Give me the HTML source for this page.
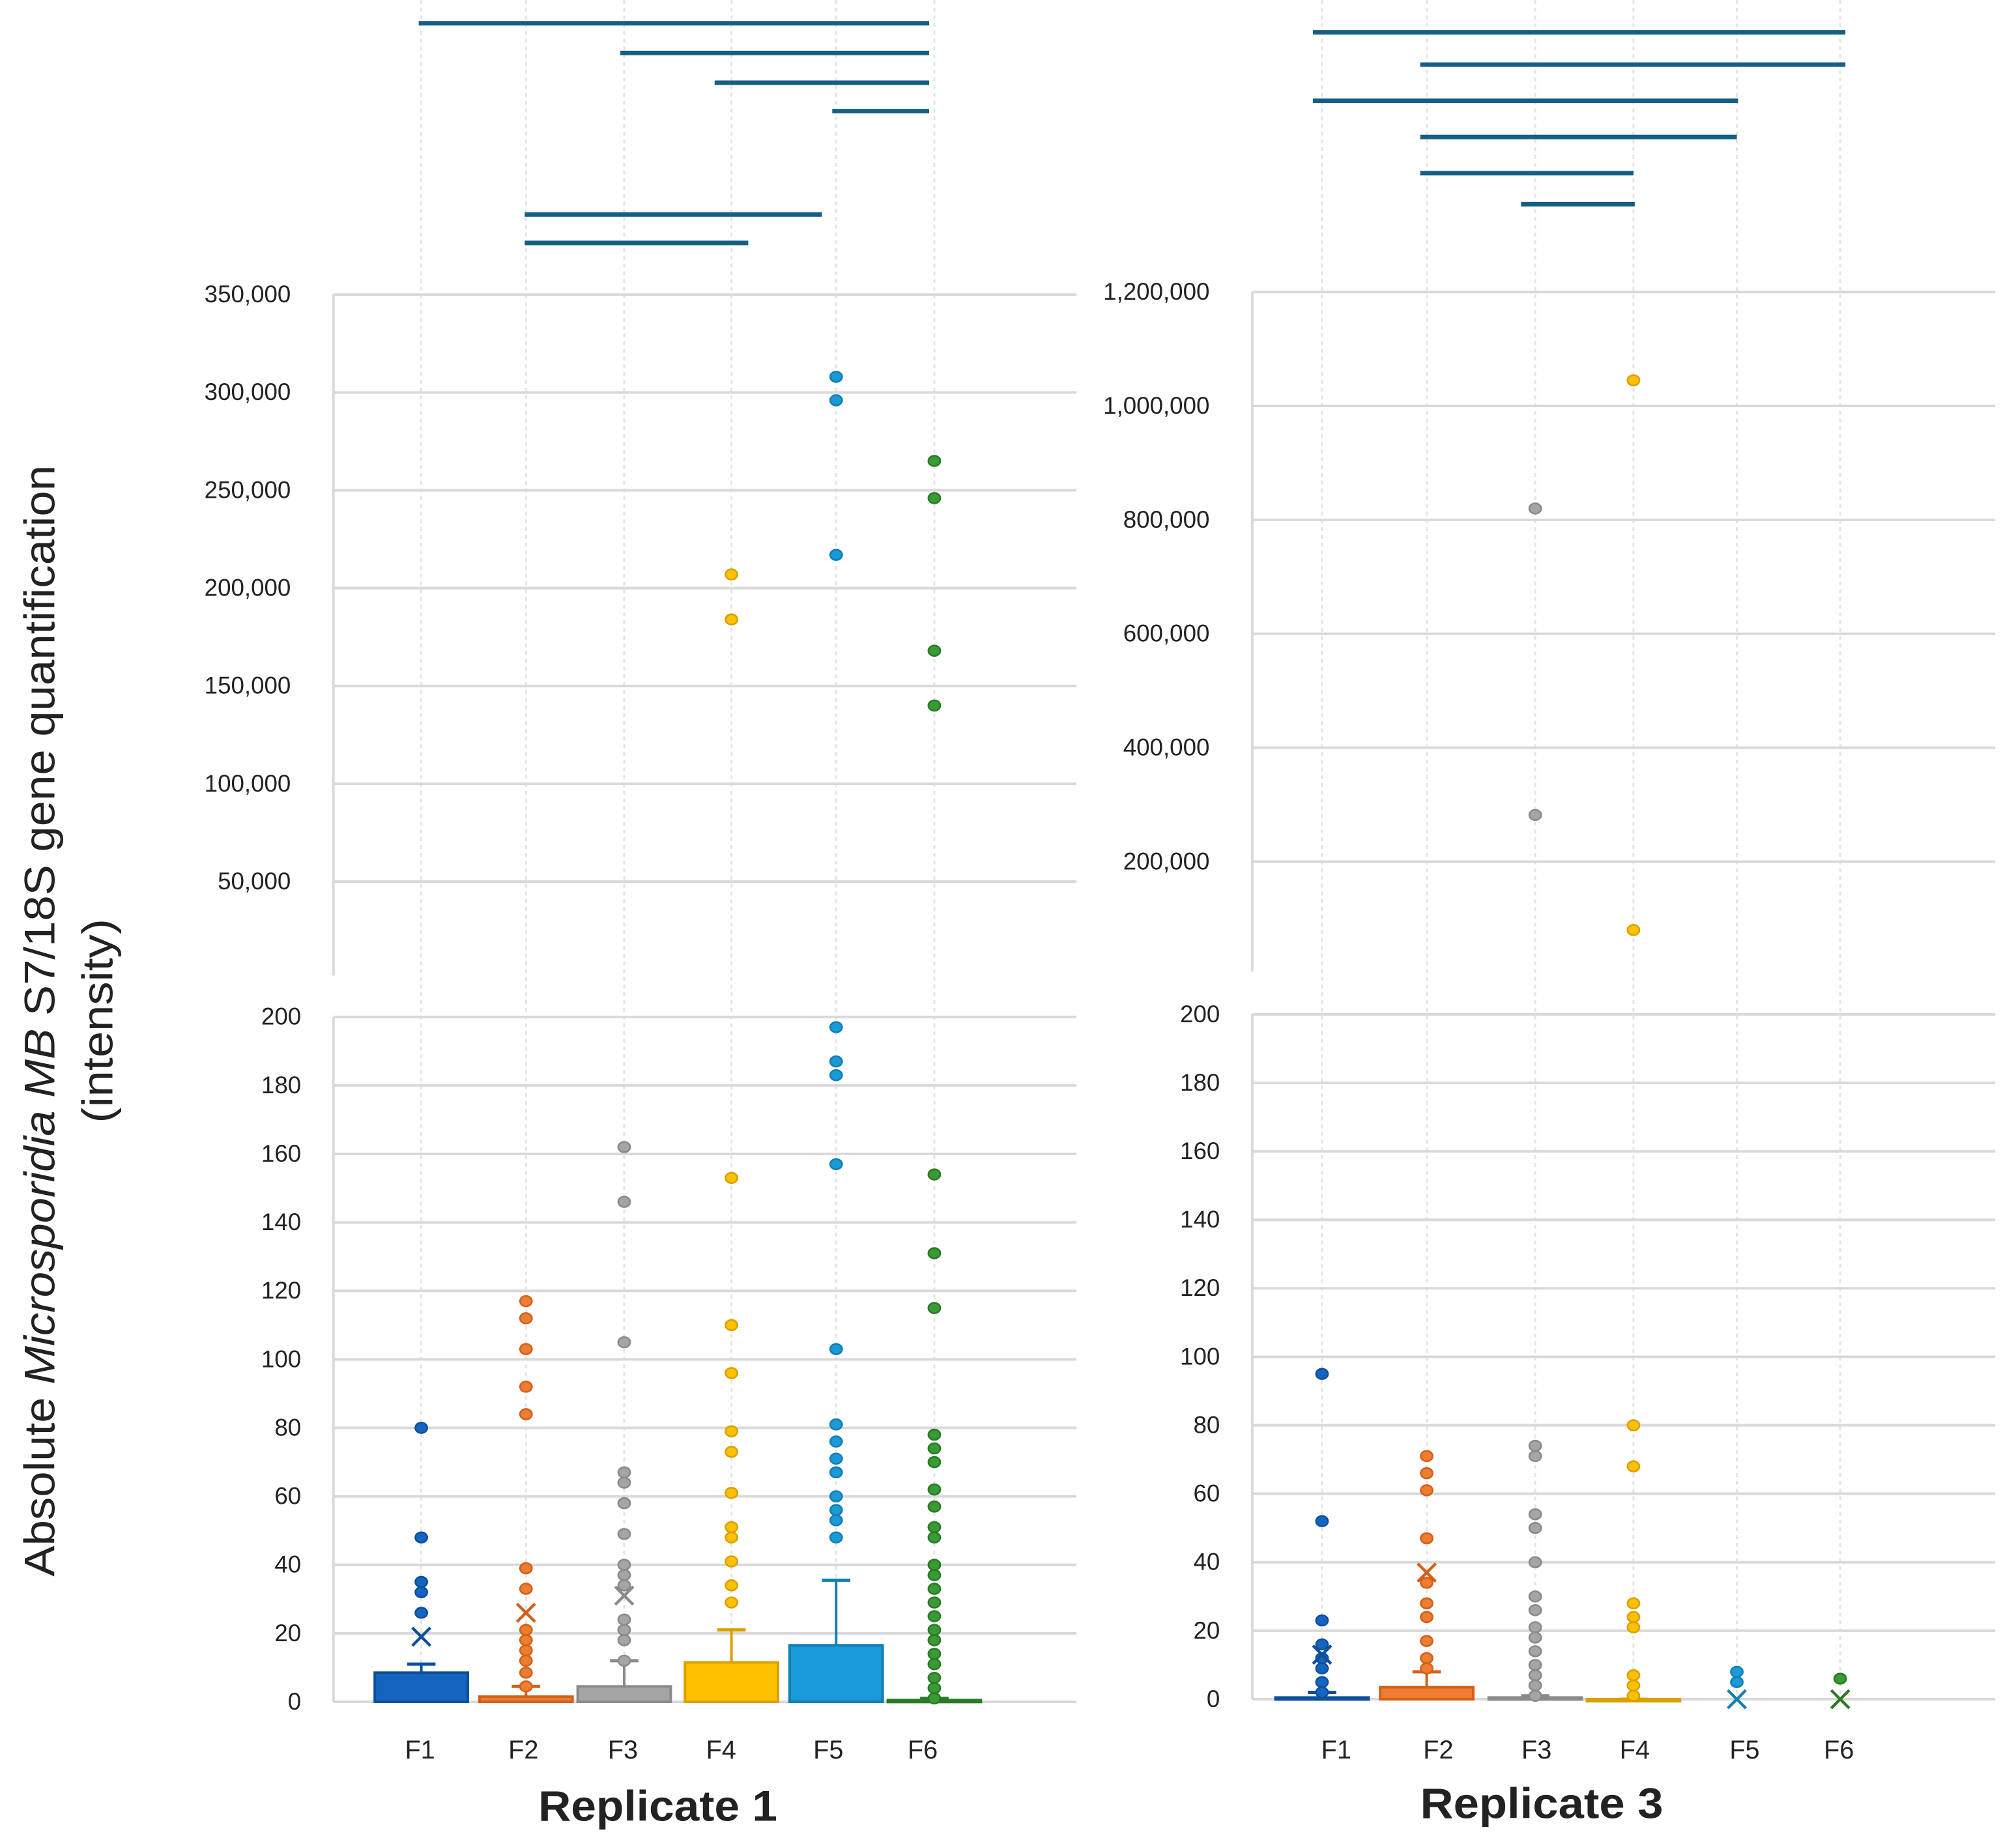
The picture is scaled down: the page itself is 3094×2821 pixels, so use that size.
<!DOCTYPE html>
<html><head><meta charset="utf-8"><style>
html,body{margin:0;padding:0;background:#fff;}
svg{display:block;}
text{font-family:"Liberation Sans",sans-serif;fill:#222;}
</style></head><body>
<svg id="chart" width="3094" height="2821" viewBox="0 0 1560 1422.4" xmlns="http://www.w3.org/2000/svg">
<g id="layer"></g>
<text transform="translate(42,790) rotate(-90)" text-anchor="middle" font-size="33" textLength="860" lengthAdjust="spacingAndGlyphs">Absolute <tspan font-style="italic">Microsporidia MB</tspan> S7/18S gene quantification</text>
<text transform="translate(87,790) rotate(-90)" text-anchor="middle" font-size="33" textLength="158" lengthAdjust="spacingAndGlyphs">(intensity)</text>
<text x="509" y="1409" text-anchor="middle" font-size="33" font-weight="bold" textLength="185" lengthAdjust="spacingAndGlyphs">Replicate 1</text>
<text x="1193" y="1407" text-anchor="middle" font-size="33" font-weight="bold" textLength="188" lengthAdjust="spacingAndGlyphs">Replicate 3</text>
</svg>
<script>
const categories = ["F1","F2","F3","F4","F5","F6"];
const colors = ["#1565c0","#ed7d31","#a5a5a5","#ffc000","#1a9ad6","#3a9a35"];
const strokes = ["#0d4f9a","#d2601a","#8a8a8a","#d9a000","#127fb3","#2a7a26"];
// Replicate 1
const r1BoxTop = [8.5,1.5,4.5,11.5,16.5,0.5];
const r1Whisker = [11,4.5,12,21,35.5,1];
const r1Mean = [19,26,31,null,null,null];
const r1Outliers = [
 [80,48,35,32,26],
 [117,112,103,92,84,39,33,21,18,15,12,8.5,4.5],
 [162,146,105,67,64,58,49,40,37,34,24,21,18,12],
 [153,110,96,79,73,61,51,48,41,34,29],
 [197,187,183,157,103,81,76,71,67,60,56,53,48],
 [154,131,115,78,74,70,62,57,51,48,40,37,33,29,25,21,18,14,11,7,4,1]
];
const r1High = [[],[],[],[207000,184000],[308000,296000,217000],[265000,246000,168000,140000]];
const r1LowTicks = [0,20,40,60,80,100,120,140,160,180,200];
const r1HighTicks = [50000,100000,150000,200000,250000,300000,350000];
const r1Sig = [[0,5],[2,5],[3,5],[4,5],[1,4],[1,3]];
// Replicate 3
const r3BoxTop = [0.5,3.5,0.5,-0.5,null,null];
const r3Whisker = [2,8,1,0,0,0];
const r3Mean = [13,37,null,null,0,0];
const r3Outliers = [
 [95,52,23,16,12,9,5,2],
 [71,66,61,47,34,28,24,17,12,9],
 [74,71,54,50,40,30,26,21,18,14,10,7,4,1],
 [80,68,28,24,21,7,4,1],
 [8,5],
 [6]
];
const r3High = [[],[],[820000,282000],[1045000,80000],[],[]];
const r3LowTicks = [0,20,40,60,80,100,120,140,160,180,200];
const r3HighTicks = [200000,400000,600000,800000,1000000,1200000];
const r3Sig = [[0,5],[1,5],[0,4],[1,4],[1,3],[2,3]];

const NS="http://www.w3.org/2000/svg";
const L=document.getElementById('layer');
function mk(tag,attrs,parent){const e=document.createElementNS(NS,tag);for(const k in attrs)e.setAttribute(k,attrs[k]);(parent||L).appendChild(e);return e;}
function fmt(v){return v.toLocaleString('en-US');}

const panels=[
 {name:'replicate-1',ax:258,right:833,catX:[326,407,483,566,647,723],labX:[325,405,482,558,641,714],bw:72,
  lowTop:787,lowBot:1317,lowMax:200,hiTop:228,hiZero:758,hiMax:350000,hiAxisBot:755,
  box:r1BoxTop,wh:r1Whisker,mean:r1Mean,out:r1Outliers,hi:r1High,lt:r1LowTicks,ht:r1HighTicks,sig:r1Sig,
  sigY:[18,41,64,86,166,188],sigX:[[324,719],[480,719],[553,719],[644,719],[406,636],[406,579]]},
 {name:'replicate-3',ax:969,right:1544,catX:[1023,1104,1188,1264,1344,1424],labX:[1034,1113,1189,1265,1350,1423],bw:72,
  lowTop:785,lowBot:1315,lowMax:200,hiTop:226,hiZero:755,hiMax:1200000,hiAxisBot:752,
  box:r3BoxTop,wh:r3Whisker,mean:r3Mean,out:r3Outliers,hi:r3High,lt:r3LowTicks,ht:r3HighTicks,sig:r3Sig,
  sigY:[25,50,78,106,134,158],sigX:[[1016,1428],[1099,1428],[1016,1345],[1099,1344],[1099,1264],[1177,1265]]}
];

panels.forEach(p=>{
 const yl=v=>p.lowBot-(v/p.lowMax)*(p.lowBot-p.lowTop);
 const yh=v=>p.hiZero-(v/p.hiMax)*(p.hiZero-p.hiTop);
 p.catX.forEach((x,i)=>{
  const l=mk('line',{x1:x,x2:x,y1:0,y2:p.lowBot,stroke:'#e4e4e4','stroke-width':1.5,'stroke-dasharray':'3 3'});
  
  
 });
 p.ht.forEach(t=>{
  const y=yh(t);
  const g=mk('line',{x1:p.ax,x2:p.right,y1:y,y2:y,stroke:'#d9d9d9','stroke-width':2});
  
  
  const tx=mk('text',{x:p.ax-33,y:y+6,'text-anchor':'end','font-size':18.5});
  tx.textContent=fmt(t);
  
  
 });
 const a1=mk('line',{x1:p.ax,x2:p.ax,y1:p.hiTop,y2:p.hiAxisBot,stroke:'#d9d9d9','stroke-width':2});
 
 
 p.lt.forEach(t=>{
  const y=yl(t);
  const g=mk('line',{x1:p.ax,x2:p.right,y1:y,y2:y,stroke:'#d9d9d9','stroke-width':2});
  
  
  const tx=mk('text',{x:p.ax-25,y:y+6,'text-anchor':'end','font-size':18.5});
  tx.textContent=fmt(t);
  
  
 });
 const a2=mk('line',{x1:p.ax,x2:p.ax,y1:p.lowTop,y2:p.lowBot,stroke:'#d9d9d9','stroke-width':2});
 
 
 p.sig.forEach((s,i)=>{
  const y=p.sigY[i];
  const b=mk('line',{x1:p.sigX[i][0],x2:p.sigX[i][1],y1:y,y2:y,stroke:'#155e84','stroke-width':3.5});
  
  
 });
 categories.forEach((c,i)=>{
  const x=p.catX[i];
  if(p.box[i]!==null){
   const wy=yl(p.wh[i]), by=yl(p.box[i]);
   if(p.wh[i]>p.box[i]){
    const w=mk('line',{x1:x,x2:x,y1:wy,y2:by,stroke:strokes[i],'stroke-width':2});
    
    
    const cap=mk('line',{x1:x-11,x2:x+11,y1:wy,y2:wy,stroke:strokes[i],'stroke-width':2.5});
    
    
   }
   const top=Math.min(by,p.lowBot), h=Math.max(Math.abs(p.lowBot-by),1.5);
   const r=mk('rect',{x:x-p.bw/2,y:top,width:p.bw,height:h,fill:colors[i],stroke:strokes[i],'stroke-width':2});
   
   
  }
  p.out[i].forEach(v=>{
   const d=mk('ellipse',{cx:x,cy:yl(v),rx:4.6,ry:4,fill:colors[i],stroke:strokes[i],'stroke-width':1.3});
   
   
  });
  p.hi[i].forEach(v=>{
   const d=mk('ellipse',{cx:x,cy:yh(v),rx:4.6,ry:4,fill:colors[i],stroke:strokes[i],'stroke-width':1.3});
   
   
  });
  if(p.mean[i]!==null){
   const my=yl(p.mean[i]);
   const m=mk('path',{d:`M${x-7},${my-7}L${x+7},${my+7}M${x+7},${my-7}L${x-7},${my+7}`,stroke:strokes[i],'stroke-width':2.2,fill:'none'});
   
   
  }
  const t=mk('text',{x:p.labX[i],y:1361,'text-anchor':'middle','font-size':20});
  t.textContent=c;
  
  
 });
});
</script>
</body></html>
